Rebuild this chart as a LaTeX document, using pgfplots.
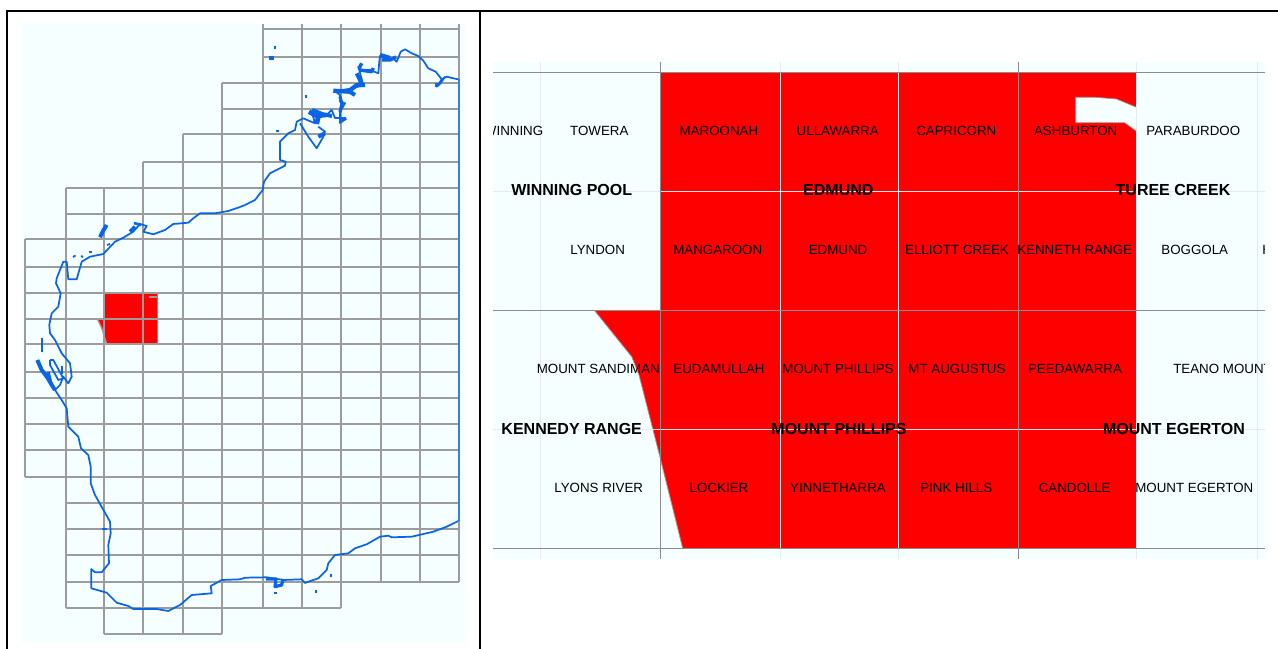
\documentclass[border=0pt]{standalone}
\usepackage{fontspec}
\setmainfont{Liberation Sans}
\usepackage{pgfplots}
\pgfplotsset{compat=1.18}

\definecolor{panel}{HTML}{F6FFFF}
\definecolor{gridgrey}{HTML}{9C9C9C}
\definecolor{mapgrey}{HTML}{8C8C8C}
\definecolor{lightgrid}{HTML}{E6EAEE}
\definecolor{coast}{HTML}{0A64E6}
\definecolor{border}{HTML}{2F80F0}

\newcommand{\gl}[4]{\addplot[gridgrey, line width=1.5pt] coordinates {(#1,#2)(#3,#4)};}
\newcommand{\thin}[4]{\addplot[mapgrey, line width=0.7pt] coordinates {(#1,#2)(#3,#4)};}
\newcommand{\lightl}[4]{\addplot[lightgrid, line width=0.7pt] coordinates {(#1,#2)(#3,#4)};}
\newcommand{\frameline}[4]{\addplot[black, line width=1.5pt] coordinates {(#1,#2)(#3,#4)};}
\newcommand{\lab}[3]{\node[inner sep=0pt, yshift=-0.75pt, font=\fontsize{10}{12}\selectfont] at (axis cs:#1,#2) {#3};}
\newcommand{\blab}[3]{\node[inner sep=0pt, font=\fontsize{12}{14}\selectfont\bfseries] at (axis cs:#1,#2) {#3};}

\begin{document}
\begin{tikzpicture}
\begin{axis}[
  scale only axis,
  width=958.5pt, height=486.75pt,
  xmin=0, xmax=1278, ymin=0, ymax=649,
  y dir=reverse,
  hide axis,
  no markers,
  every axis plot/.append style={line join=round, line cap=butt},
]
% panels
\addplot[fill=white, draw=none] coordinates {(0,0)(1278,0)(1278,649)(0,649)} --cycle;
\addplot[fill=panel, draw=none] coordinates {(22,24)(466,24)(466,643)(22,643)} --cycle;
\addplot[fill=panel, draw=none] coordinates {(493,62)(1264.7,62)(1264.7,559)(493,559)} --cycle;

% left map: selected block
\addplot[fill=red, draw=none] coordinates {(104.5,293)(157.5,293)(157.5,344.3)(106.7,344.3)(101.7,328)(97.3,319)(104.5,319)} --cycle;
\addplot[gridgrey, line width=1pt] coordinates {(97.3,319)(101.7,328)(106.7,344.3)};
\addplot[gridgrey, line width=1.6pt] coordinates {(149,297)(157.3,297)};

% left map: vertical grid
\gl{25}{239.3}{25}{477}
\gl{65.5}{188}{65.5}{608}
\gl{104}{188}{104}{634}
\gl{143}{162}{143}{634}
\gl{183.3}{134.3}{183.3}{634}
\gl{222.3}{82.7}{222.3}{634}
\gl{263}{24}{263}{608}
\gl{301.7}{24}{301.7}{608}
\gl{340.5}{24}{340.5}{608}
\gl{381}{24}{381}{582.3}
\gl{419.7}{24}{419.7}{582.3}
\gl{459}{24}{459}{582.3}
% left map: horizontal grid
\gl{263}{29.3}{459}{29.3}
\gl{263}{57}{459}{57}
\gl{222.3}{82.7}{459}{82.7}
\gl{222.3}{108.7}{459}{108.7}
\gl{183.3}{134.3}{459}{134.3}
\gl{143}{162}{459}{162}
\gl{65.5}{188}{459}{188}
\gl{65.5}{213.7}{459}{213.7}
\gl{25}{239.3}{459}{239.3}
\gl{25}{267}{459}{267}
\gl{25}{293}{459}{293}
\gl{25}{318.7}{459}{318.7}
\gl{25}{344.3}{459}{344.3}
\gl{25}{372}{459}{372}
\gl{25}{398}{459}{398}
\gl{25}{424}{459}{424}
\gl{25}{449.7}{459}{449.7}
\gl{25}{477}{459}{477}
\gl{65.5}{503}{459}{503}
\gl{65.5}{529}{459}{529}
\gl{65.5}{555}{459}{555}
\gl{65.5}{582.3}{459}{582.3}
\gl{65.5}{608}{340.5}{608}
\gl{104}{634}{222.3}{634}

% left map: state border
\addplot[border, line width=1pt] coordinates {(459,79)(459,521)};

% left map: coastline
\addplot[coast, line width=1.3pt] coordinates {
(458.3,79.3)(453.3,78.3)(446.7,76.7)(441.7,79.3)(435.7,71.7)(428.3,68.3)(423.3,60.7)(418.3,56)(411.7,53.3)(405,49.3)(400.7,51.7)(396.7,61.7)(393,58.3)(388.3,60)(380,56)(379.3,61.7)(378.3,73.3)(370,70)(360,70)(358.3,66.7)(363.3,85)(353.3,88.3)(335,91)(340,95)(340,101.7)(345,103.3)(340,111.7)(340,123)(345,118)(335,118)(331.7,110)(325,116.7)(311.7,111.7)(315,123.3)(303.3,118.3)(296.7,121.7)(295,130)(288.3,133.3)(280,141.7)(280,160)(285.7,161.7)(285,165.7)(270,173.3)(264,181.7)(262.7,190)(255,200)(245,205)(240,207)(228.3,211)(215,213.3)(200,213.3)(193.3,218.3)(188.3,222.7)(173.3,224)(165,230)(153.3,234.3)(143.3,231.7)(146.7,226)(140,224)(133.3,231.7)(123.3,237.7)(115,241.7)(103.3,254)(90,256.7)(81.7,261.7)(76.7,279.3)(68.3,279.3)(66.7,261.7)(63.3,261.7)(56.7,278.3)(56,283.3)(60.7,293.3)(58.3,306.7)(51.7,313.3)(49.3,325)(50,333.3)(55,340)(61.7,353.3)(70,363.3)(71.7,376.7)(68.3,383.3)(63.3,376.7)(60,385)(55,390)(61.7,400)(66.7,408.3)(68.3,426.7)(78.3,436.7)(81,448.3)(88.3,455)(90.7,466.7)(90.7,483.3)(95,495)(110,521.7)(110.7,533.3)(108.3,545)(109,563.3)(101.7,572.3)(95,572.3)(91.3,569)(91.3,588.3)(106.7,592.7)(116.7,602.7)(128.3,606)(133.3,609)(156.7,609)(168.3,611)(180,605)(191.7,595)(211.7,593.3)(210.7,586)(221.7,580)(240,579.3)(245,577.7)(266.7,577.3)(273.3,578.3)(283.3,580)(301.7,579.3)(305,583)(308.3,581.7)(318.3,578.3)(326.7,570)(328.3,563.3)(335,555)(348.3,553.3)(355,548.3)(366.7,544.3)(380,536.7)(388.3,535.7)(391.7,537.3)(411.7,536.7)(433.3,531.7)(446.7,526.7)(458.3,521)
};
% gulf on the north coast
\addplot[coast, line width=1.3pt] coordinates {(300,123.3)(308.3,136.7)(316.7,148.3)(323.3,136.7)(325,131.7)(318.3,126.7)};
% bay loop at the north-east corner
\addplot[coast, line width=1.3pt] coordinates {(441.7,79.3)(436.7,86.7)(440,84)(445,76.7)};
% Shark Bay peninsula
\addplot[coast, line width=1.3pt] coordinates {(50,360)(53.3,360)(63.3,378.3)(58.3,380)(50,365)(50,360)};
\addplot[coast, line width=1.3pt] coordinates {(62,366)(62,374)};
\addplot[coast, line width=1.2pt] coordinates {(41.7,338)(41.7,352)};
\addplot[coast, line width=0.8pt] coordinates {(101.7,529)(106.7,529)};
% dense island groups
\addplot[coast, line width=3pt] coordinates {(37.3,360)(41.7,370)(47,377)(53,387)(55,390)};
\addplot[coast, line width=2.6pt] coordinates {(48,372)(51,384)};
\addplot[coast, line width=3pt] coordinates {(100,237.3)(103,231)(106.7,225)};
\addplot[coast, line width=2.8pt] coordinates {(130,231.7)(135,226.7)};
\addplot[coast, line width=2pt] coordinates {(134,223)(141,225)};
% north-west island clusters
\addplot[coast, line width=3.6pt] coordinates {(309,111.7)(318.3,116.7)(316.7,124)};
\addplot[coast, line width=3pt] coordinates {(312,110)(322,114)(332,116)};
\addplot[coast, line width=3pt] coordinates {(316,117)(325,115)};
\addplot[coast, line width=3pt] coordinates {(318.3,136.7)(325,133.3)};
\addplot[coast, line width=3.2pt] coordinates {(333.3,90.7)(348.3,91.7)(356.7,85)(365,85)};
\addplot[coast, line width=3pt] coordinates {(347,90)(355,95)};
\addplot[coast, line width=3pt] coordinates {(356.7,73.3)(360,80)(362,86.7)};
\addplot[coast, line width=2.4pt] coordinates {(340,96.7)(342,104)(340,112)};
\addplot[coast, line width=2.4pt] coordinates {(340,122)(346,118)};
\addplot[coast, line width=2.6pt] coordinates {(359,68.3)(361.7,63.3)};
\addplot[coast, line width=2.6pt] coordinates {(360,70)(371.7,71.7)(373.3,68)};
\addplot[coast, line width=3.2pt] coordinates {(380,55)(390,58)};
\addplot[coast, line width=2.6pt] coordinates {(382,60)(390,60)(396,57)};
\addplot[coast, line width=3pt] coordinates {(435,85)(438,85)};
% islands off the north coast
\addplot[coast, line width=3pt] coordinates {(268.5,58.5)(273.5,58.5)};
\addplot[coast, line width=2pt] coordinates {(275,46)(275,49)};
\addplot[coast, line width=2.2pt] coordinates {(304.5,96.7)(307,96.7)};
\addplot[coast, line width=1.2pt] coordinates {(276,131.3)(279,131.3)};
% small islands and reefs
\addplot[coast, line width=1.4pt] coordinates {(73,257)(75.5,255.5)};
\addplot[coast, line width=1.4pt] coordinates {(81,256)(83,257)};
\addplot[coast, line width=1.4pt] coordinates {(89,252.3)(92,252.3)};
\addplot[coast, line width=1.4pt] coordinates {(107,245)(110,244)};
\addplot[coast, line width=1.6pt] coordinates {(274,593.3)(276.5,593.3)};
\addplot[coast, line width=1.6pt] coordinates {(316,590)(316,592.5)};
\addplot[coast, line width=1.6pt] coordinates {(330.7,574)(330.7,576.5)};
\addplot[coast, line width=2.4pt] coordinates {(266,579)(276,579)(275,586.7)(281.7,585)(283,579)};

% right map: selected block
\addplot[fill=red, draw=none] coordinates {(660.7,72.7)(1136.3,72.7)(1136.3,548.3)(682.7,548.3)(660.7,460)(639,375)(631.7,356.7)(594.3,310.3)(660.7,310.3)} --cycle;
\addplot[fill=panel, draw=none] coordinates {(1075.7,97.3)(1094.7,97.3)(1116.3,99)(1136.3,107.3)(1136.3,131)(1124.7,122.7)(1075.7,122.7)} --cycle;
\addplot[gridgrey, line width=0.6pt] coordinates {(682.7,548.3)(660.7,460)(639,375)(631.7,356.7)(594.3,310.3)};
\addplot[gridgrey, line width=0.5pt] coordinates {(1136.3,107.3)(1116.3,99)(1094.7,97.3)(1075.7,97.3)(1075.7,122.7)(1124.7,122.7)(1136.3,131)};

% right map: grid
\lightl{540.7}{62}{540.7}{559}
\lightl{780}{62}{780}{559}
\lightl{898.7}{62}{898.7}{559}
\lightl{1136.3}{62}{1136.3}{559}
\lightl{1257}{62}{1257}{559}
\lightl{493}{191.3}{1264.7}{191.3}
\lightl{493}{429.3}{1264.7}{429.3}
\thin{660.7}{62}{660.7}{559}
\thin{1018}{62}{1018}{559}
\thin{493}{72.7}{1264.7}{72.7}
\thin{493}{310.3}{1264.7}{310.3}
\thin{493}{548.3}{1264.7}{548.3}

% frame of the layout table
\frameline{6}{11}{1278}{11}
\frameline{7}{10}{7}{649}
\frameline{480.3}{11}{480.3}{649}

% right map: sheet names
\begin{scope}
\clip (axis cs:493,62) rectangle (axis cs:1264.7,559);
\node[inner sep=0pt, anchor=east, yshift=-0.75pt, font=\fontsize{10}{12}\selectfont] at (axis cs:543.5,130.3) {WINNING};
\node[inner sep=0pt, anchor=west, yshift=-0.75pt, font=\fontsize{10}{12}\selectfont] at (axis cs:1262,249.3) {H};
\node[inner sep=0pt, anchor=west, yshift=-0.75pt, font=\fontsize{10}{12}\selectfont] at (axis cs:1173,368.3) {TEANO MOUNT};
\end{scope}
\lab{599.3}{130.3}{TOWERA}
\lab{719}{130.3}{MAROONAH}
\lab{837.7}{130.3}{ULLAWARRA}
\lab{956.3}{130.3}{CAPRICORN}
\lab{1075.7}{130.3}{ASHBURTON}
\lab{1193.3}{130.3}{PARABURDOO}
\lab{597.7}{249.3}{LYNDON}
\lab{717.7}{249.3}{MANGAROON}
\lab{838}{249.3}{EDMUND}
\lab{957}{249.3}{ELLIOTT CREEK}
\lab{1074.7}{249.3}{KENNETH RANGE}
\lab{1194.7}{249.3}{BOGGOLA}
\lab{598.3}{368.3}{MOUNT SANDIMAN}
\lab{719}{368.3}{EUDAMULLAH}
\lab{838}{368.3}{MOUNT PHILLIPS}
\lab{957}{368.3}{MT AUGUSTUS}
\lab{1075}{368.3}{PEEDAWARRA}
\lab{598.7}{487.3}{LYONS RIVER}
\lab{719}{487.3}{LOCKIER}
\lab{838}{487.3}{YINNETHARRA}
\lab{956.3}{487.3}{PINK HILLS}
\lab{1074.7}{487.3}{CANDOLLE}
\lab{1194.3}{487.3}{MOUNT EGERTON}
\blab{571.7}{189.7}{WINNING POOL}
\blab{838.3}{189.7}{EDMUND}
\blab{1173}{189.7}{TUREE CREEK}
\blab{571.7}{429}{KENNEDY RANGE}
\blab{839}{429}{MOUNT PHILLIPS}
\blab{1174}{429}{MOUNT EGERTON}
\end{axis}
\pgfresetboundingbox
\path[use as bounding box] (current axis.south west) rectangle (current axis.north east);
\end{tikzpicture}
\end{document}
